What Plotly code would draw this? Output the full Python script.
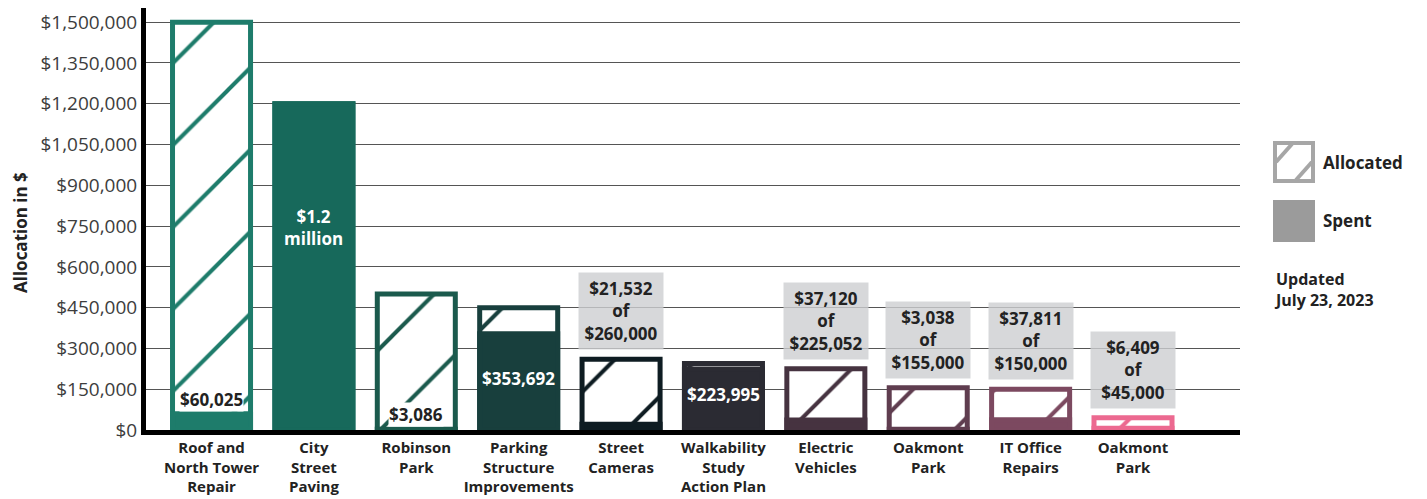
import plotly.graph_objects as go

categories = ["Roof and<br>North Tower<br>Repair", "City<br>Street<br>Paving", "Robinson<br>Park",
              "Parking<br>Structure<br>Improvements", "Street<br>Cameras", "Walkability<br>Study<br>Action Plan",
              "Electric<br>Vehicles", "Oakmont<br>Park", "IT Office<br>Repairs", "Oakmont<br>Park"]
allocated = [1500000, 1200000, 500000, 450000, 260000, 245000, 225052, 155000, 150000, 45000]
spent = [60025, 1200000, 3086, 353692, 21532, 223995, 37120, 3038, 37811, 6409]
colors = ["#1e7c6b", "#17695b", "#1b5a4d", "#183f3d", "#0e1c22", "#2b2b33",
          "#463340", "#5f3d4f", "#7c4960", "#ec6990"]
# label style per bar: 'below' = dark text on white above spent, 'inside' = white text in spent bar,
# 'box' = grey box above allocated bar
label_kind = ["below", "inside", "below", "inside", "box", "inside", "box", "box", "box", "box"]
inside_text = {1: "$1.2<br>million", 3: "$353,692", 5: "$223,995"}
inside_frac = {1: 0.62, 3: 0.54, 5: 0.58}
tick_vals = list(range(0, 1500001, 150000))
tick_text = ["${:,}".format(v) for v in tick_vals]

FONT = "Open Sans"
x = list(range(len(categories)))
BW = 0.762
LW = 5

fig = go.Figure()
for i in x:
    fig.add_trace(go.Bar(
        x=[i], y=[allocated[i]], width=BW,
        marker=dict(color="white",
                    line=dict(color=colors[i], width=LW),
                    pattern=dict(shape="/", fgcolor=colors[i], bgcolor="white", fgopacity=1,
                                 size=58, solidity=0.07)),
        showlegend=False, hoverinfo="skip"))
for i in x:
    fig.add_trace(go.Bar(
        x=[i], y=[spent[i]], width=BW,
        marker=dict(color=colors[i], line=dict(color=colors[i], width=LW)),
        showlegend=False, hoverinfo="skip"))

def money(v):
    return "${:,}".format(v)

for i in x:
    k = label_kind[i]
    if k == "below":
        fig.add_annotation(x=i, y=spent[i], yanchor="bottom", yshift=2, text=money(spent[i]),
                           showarrow=False, bgcolor="white", borderpad=0,
                           font=dict(family=FONT, size=17, color="#222222", weight="bold"))
    elif k == "inside":
        fig.add_annotation(x=i, y=spent[i] * inside_frac[i], text=inside_text[i],
                           showarrow=False,
                           font=dict(family=FONT, size=17, color="white", weight="bold"))
    else:
        fig.add_annotation(x=i, y=allocated[i], yanchor="bottom", yshift=9,
                           text=money(spent[i]) + "<br>of<br>" + money(allocated[i]),
                           showarrow=False, bgcolor="rgba(205,206,209,0.8)",
                           width=80, height=72, borderpad=2,
                           font=dict(family=FONT, size=17, color="#222222", weight="bold"))

# legend and side texts (decorative, positioned in screen pixels of the plot frame)
def px(xp):
    return (xp - 146) / 1094
def py(yp):
    return (430 - yp) / 422

fig.add_annotation(xref="paper", yref="paper", x=px(20), y=py(233), textangle=-90,
                   xanchor="center", yanchor="middle",
                   text="Allocation in $", showarrow=False,
                   font=dict(family=FONT, size=17, color="#222222", weight="bold"))
fig.add_shape(type="rect", xref="paper", yref="paper", x0=px(1275), x1=px(1313), y0=py(181), y1=py(143),
              line=dict(color="#a6a6a6", width=4), fillcolor="white")
fig.add_shape(type="line", xref="paper", yref="paper", x0=px(1276), x1=px(1292), y0=py(162), y1=py(144),
              line=dict(color="#a6a6a6", width=4))
fig.add_shape(type="line", xref="paper", yref="paper", x0=px(1296), x1=px(1312), y0=py(180), y1=py(162),
              line=dict(color="#a6a6a6", width=4))
fig.add_shape(type="rect", xref="paper", yref="paper", x0=px(1273), x1=px(1315), y0=py(242), y1=py(200),
              line=dict(width=0), fillcolor="#9b9b9b")
fig.add_annotation(xref="paper", yref="paper", x=px(1321), y=py(162), xanchor="left", text="Allocated",
                   showarrow=False, font=dict(family=FONT, size=17, color="#222222", weight="bold"))
fig.add_annotation(xref="paper", yref="paper", x=px(1321), y=py(220), xanchor="left", text="Spent",
                   showarrow=False, font=dict(family=FONT, size=17, color="#222222", weight="bold"))
fig.add_annotation(xref="paper", yref="paper", x=px(1272), y=py(313), xanchor="left", align="left",
                   text="Updated<br>July 23, 2023",
                   showarrow=False, font=dict(family=FONT, size=16, color="#222222", weight="bold"))

# page body has an 8px margin, so the plot frame is offset accordingly
fig.update_layout(
    width=1427, height=499, barmode="overlay",
    margin=dict(l=138, r=195, t=0, b=77),
    plot_bgcolor="white", paper_bgcolor="white",
    font=dict(family=FONT),
    xaxis=dict(range=[-0.64, 10.045], tickvals=x, ticktext=categories, showgrid=False,
               showline=True, linecolor="black", linewidth=5, ticks="", zeroline=False,
               automargin=False,
               tickfont=dict(family=FONT, size=15, color="#222222", weight="bold")),
    yaxis=dict(range=[0, 1552000], tickvals=tick_vals, ticktext=tick_text,
               showgrid=True, gridcolor="#555555", gridwidth=1.2, zeroline=False,
               showline=True, linecolor="black", linewidth=5, ticks="", automargin=False,
               tickfont=dict(family=FONT, size=19, color="#3d3d3d")),
)
fig.write_html("out.html")
